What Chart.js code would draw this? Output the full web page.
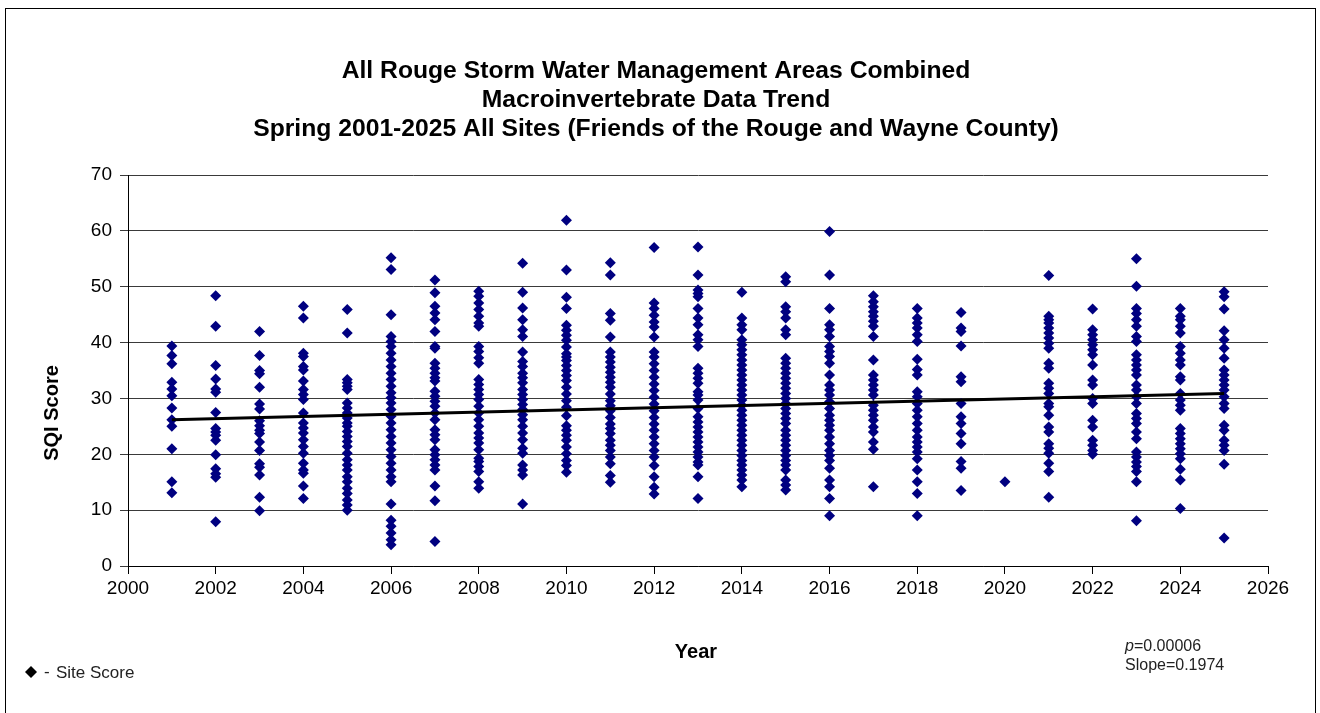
<!DOCTYPE html>
<html>
<head>
<meta charset="utf-8">
<script src="https://cdn.jsdelivr.net/npm/chart.js@4.4.1/dist/chart.umd.min.js"></script>
<style>
  html, body { margin: 0; padding: 0; background: #fff; }
  canvas { display: block; }
</style>
</head>
<body>
<canvas id="chart" width="1320" height="713"></canvas>
<script>
// SQI scores, one list per spring sampling year
const s2001 = [39.4, 37.7, 36.2, 32.9, 31.7, 30.5, 28.3, 26.2, 25.0, 21.0, 15.1, 13.1];
const s2002 = [48.4, 42.9, 35.9, 33.5, 31.7, 31.1, 27.5, 24.6, 24.0, 23.4, 22.5, 19.9, 17.4, 16.5, 15.9, 7.9];
const s2003 = [42.0, 37.7, 35.0, 34.4, 32.0, 29.0, 28.1, 26.0, 25.1, 24.3, 23.7, 22.2, 20.7, 18.3, 17.7, 16.3, 12.3, 9.9];
const s2004 = [46.5, 44.4, 38.1, 37.5, 35.7, 35.1, 33.1, 31.6, 30.7, 29.8, 27.4, 25.6, 24.7, 23.8, 22.6, 21.4, 20.2, 18.4, 17.2, 16.6, 14.3, 12.1];
const s2005 = [45.9, 41.7, 33.4, 32.8, 32.2, 31.6, 29.2, 28.3, 27.4, 26.5, 25.6, 25.0, 24.1, 23.2, 22.3, 21.4, 20.2, 19.0, 18.1, 17.2, 16.0, 15.1, 13.9, 13.0, 11.8, 10.9, 10.0];
const s2006 = [55.2, 53.1, 45.0, 41.1, 40.2, 39.3, 38.1, 36.9, 35.7, 34.5, 33.4, 32.2, 31.0, 30.1, 29.2, 28.0, 26.8, 25.6, 24.4, 23.2, 22.0, 20.8, 19.6, 18.4, 17.2, 16.0, 15.1, 11.1, 8.2, 7.1, 5.9, 4.7, 3.8];
const s2007 = [51.2, 48.9, 46.5, 45.3, 44.1, 42.0, 39.3, 39.0, 36.3, 35.4, 34.5, 33.7, 33.1, 31.3, 30.4, 29.5, 28.6, 27.4, 26.2, 24.4, 23.5, 22.6, 20.8, 19.9, 19.0, 18.1, 17.2, 14.3, 11.7, 4.4];
const s2008 = [49.2, 48.3, 47.1, 45.9, 44.7, 43.5, 42.9, 39.3, 38.4, 37.3, 36.3, 33.4, 32.5, 31.6, 30.7, 29.8, 28.6, 27.4, 26.2, 25.0, 23.8, 22.9, 22.0, 20.8, 19.3, 18.7, 17.8, 16.9, 15.1, 13.9];
const s2009 = [54.2, 49.0, 46.2, 44.1, 42.3, 41.1, 38.3, 36.6, 35.7, 34.5, 33.7, 32.8, 31.6, 30.7, 29.8, 28.9, 28.0, 27.1, 26.2, 25.0, 23.8, 22.6, 21.1, 20.2, 18.1, 17.2, 16.3, 11.1];
const s2010 = [61.9, 53.0, 48.1, 46.1, 43.1, 42.2, 41.3, 40.4, 39.2, 38.0, 37.4, 36.8, 35.9, 35.0, 34.1, 33.2, 32.0, 30.8, 29.6, 28.4, 26.9, 25.1, 24.3, 23.4, 22.5, 21.3, 20.1, 18.9, 18.0, 16.8];
const s2011 = [54.3, 52.1, 45.2, 44.0, 41.0, 38.3, 37.4, 36.5, 35.6, 34.7, 33.8, 32.9, 32.0, 30.8, 29.6, 28.7, 27.8, 26.6, 25.4, 24.6, 23.7, 22.5, 21.6, 20.7, 19.5, 18.3, 16.2, 15.0];
const s2012 = [57.0, 47.1, 46.1, 44.9, 43.7, 42.8, 41.0, 38.3, 37.4, 36.2, 35.0, 33.8, 32.6, 31.4, 30.2, 29.0, 27.8, 26.6, 25.4, 24.3, 23.1, 21.9, 20.7, 19.5, 18.0, 16.0, 14.1, 12.9];
const s2013 = [57.1, 52.1, 49.4, 48.8, 48.2, 46.1, 44.4, 43.2, 41.4, 40.5, 39.3, 35.4, 34.5, 33.6, 32.7, 31.2, 30.6, 29.7, 28.2, 26.7, 25.8, 24.9, 24.0, 23.1, 22.2, 21.3, 20.4, 19.5, 18.6, 18.1, 16.0, 12.1];
const s2014 = [49.0, 44.4, 43.2, 42.3, 40.5, 39.6, 38.7, 37.8, 36.9, 36.0, 35.1, 34.2, 33.3, 32.4, 31.5, 30.6, 29.7, 28.8, 27.9, 27.0, 26.1, 25.2, 24.3, 23.4, 22.5, 21.6, 20.7, 19.8, 18.9, 18.1, 17.2, 16.3, 15.4, 14.2];
const s2015 = [51.8, 50.9, 46.4, 45.5, 44.4, 42.3, 41.4, 37.2, 36.3, 35.4, 34.5, 33.6, 32.7, 31.8, 30.9, 30.0, 29.1, 28.2, 27.3, 26.4, 25.5, 24.3, 23.4, 22.5, 21.6, 20.7, 19.8, 18.9, 18.1, 17.2, 15.4, 14.5, 13.6];
const s2016 = [59.9, 52.1, 46.1, 43.2, 42.3, 41.1, 39.3, 38.4, 37.5, 36.3, 34.2, 32.4, 31.5, 30.6, 29.4, 28.2, 27.0, 26.1, 25.2, 24.3, 23.1, 21.9, 20.7, 19.8, 18.9, 17.5, 15.4, 14.2, 12.1, 9.0];
const s2017 = [48.4, 47.3, 46.4, 45.5, 44.7, 43.8, 42.9, 41.1, 36.9, 34.2, 33.3, 32.4, 31.5, 30.6, 28.8, 27.9, 27.0, 26.1, 24.9, 24.0, 22.2, 20.9, 14.2];
const s2018 = [46.1, 44.4, 43.5, 42.6, 41.4, 40.2, 37.0, 35.2, 34.2, 31.2, 30.3, 29.1, 27.9, 26.7, 25.5, 24.3, 23.1, 22.2, 21.3, 20.4, 19.2, 17.2, 15.1, 13.0, 9.0];
const s2019 = [45.4, 42.6, 42.0, 39.4, 33.9, 33.0, 29.1, 26.7, 25.5, 23.7, 21.9, 18.7, 17.5, 13.5];
const s2020 = [15.1];
const s2021 = [52.0, 44.7, 44.1, 43.5, 42.6, 41.7, 40.8, 39.9, 39.0, 36.3, 35.4, 32.7, 31.8, 30.9, 29.1, 28.5, 27.0, 24.9, 24.0, 21.9, 21.1, 20.2, 18.4, 16.9, 12.3];
const s2022 = [46.0, 42.3, 41.4, 40.5, 39.6, 38.7, 37.8, 36.0, 33.3, 32.4, 30.0, 29.1, 26.1, 24.9, 22.5, 21.6, 20.7, 20.0];
const s2023 = [55.0, 50.1, 46.1, 45.2, 44.1, 42.9, 41.1, 40.2, 37.8, 36.9, 36.0, 35.1, 34.2, 32.4, 31.5, 30.3, 29.1, 27.3, 26.4, 25.5, 24.0, 22.8, 20.4, 19.5, 18.6, 17.8, 16.9, 15.1, 8.1];
const s2024 = [46.1, 44.7, 44.1, 42.9, 41.7, 39.3, 38.1, 36.9, 36.0, 33.9, 33.3, 30.9, 29.7, 28.8, 27.9, 24.6, 23.7, 22.8, 21.9, 21.0, 20.1, 19.2, 17.3, 15.4, 10.3];
const s2025 = [49.1, 48.2, 46.0, 42.1, 40.5, 39.0, 37.2, 35.1, 34.2, 33.3, 32.4, 31.5, 30.3, 29.1, 28.2, 25.2, 24.3, 22.5, 21.6, 20.7, 18.2, 5.0];

const years = [2001, 2002, 2003, 2004, 2005, 2006, 2007, 2008, 2009, 2010, 2011, 2012, 2013,
               2014, 2015, 2016, 2017, 2018, 2019, 2020, 2021, 2022, 2023, 2024, 2025];
const yearScores = [s2001, s2002, s2003, s2004, s2005, s2006, s2007, s2008, s2009, s2010, s2011, s2012, s2013,
                    s2014, s2015, s2016, s2017, s2018, s2019, s2020, s2021, s2022, s2023, s2024, s2025];

// Linear trend line end points (as drawn on the chart)
const trendYears = [2001, 2025];
const trendValues = [26.2, 30.9];

const xTicks = { min: 2000, max: 2026, step: 2 };
const yTicks = { min: 0, max: 70, step: 10 };

const titleLines = [
    'All Rouge Storm Water Management Areas Combined',
    'Macroinvertebrate Data Trend',
    'Spring 2001-2025 All Sites (Friends of the Rouge and Wayne County)'
];

const FONT = '"Liberation Sans", Arial, sans-serif';

// Build scatter points from the per-year lists
const sitePoints = [];
years.forEach((yr, i) => {
    yearScores[i].forEach(v => sitePoints.push({ x: yr, y: v }));
});
const trendPoints = trendYears.map((yr, i) => ({ x: yr, y: trendValues[i] }));

// Frame, titles, axis names, key and stats text
const decorPlugin = {
    id: 'decor',
    beforeDraw(chart) {
        const ctx = chart.ctx;
        ctx.save();
        ctx.fillStyle = '#fff';
        ctx.fillRect(0, 0, chart.width, chart.height);
        ctx.restore();
    },
    afterDraw(chart) {
        const ctx = chart.ctx;
        ctx.save();
        ctx.strokeStyle = '#000';
        ctx.lineWidth = 1;
        ctx.strokeRect(5.5, 8.5, 1310, 720);

        ctx.fillStyle = '#000';
        ctx.textAlign = 'center';
        ctx.textBaseline = 'middle';
        ctx.font = 'bold 24.7px ' + FONT;
        titleLines.forEach((line, i) => ctx.fillText(line, 656, 71 + i * 29));

        ctx.font = 'bold 20px ' + FONT;
        ctx.fillText('Year', 696, 652);

        ctx.save();
        ctx.translate(52, 413);
        ctx.rotate(-Math.PI / 2);
        ctx.fillText('SQI Score', 0, 0);
        ctx.restore();

        // key
        ctx.beginPath();
        ctx.moveTo(25, 672);
        ctx.lineTo(31, 666);
        ctx.lineTo(37, 672);
        ctx.lineTo(31, 678);
        ctx.closePath();
        ctx.fill();
        ctx.textAlign = 'left';
        ctx.font = '17px ' + FONT;
        ctx.fillStyle = '#222';
        ctx.fillText('-', 44, 672);
        ctx.fillText('Site Score', 56, 673);

        // stats
        ctx.font = 'italic 16px ' + FONT;
        ctx.fillText('p', 1125, 647);
        const pw = ctx.measureText('p').width;
        ctx.font = '16px ' + FONT;
        ctx.fillText('=0.00006', 1125 + pw, 647);
        ctx.fillText('Slope=0.1974', 1125, 666);
        ctx.restore();
    }
};

const ctx = document.getElementById('chart').getContext('2d');
const chart = new Chart(ctx, {
    type: 'scatter',
    data: {
        datasets: [
            {
                label: 'Site Score',
                data: sitePoints,
                pointStyle: 'rectRot',
                pointRadius: 5.5,
                pointBackgroundColor: '#000080',
                pointBorderColor: '#000080',
                pointBorderWidth: 0,
                order: 2
            },
            {
                label: 'Trend',
                type: 'line',
                data: trendPoints,
                borderColor: '#000',
                borderWidth: 3,
                pointRadius: 0,
                fill: false,
                order: 1
            }
        ]
    },
    options: {
        responsive: false,
        animation: false,
        layout: { padding: { left: 0, right: 52, top: 175, bottom: 0 } },
        plugins: {
            legend: { display: false },
            tooltip: { enabled: false },
            title: { display: false }
        },
        scales: {
            x: {
                type: 'linear',
                min: xTicks.min,
                max: xTicks.max,
                ticks: {
                    stepSize: xTicks.step,
                    color: '#000',
                    font: { family: FONT, size: 19 },
                    padding: 3,
                    callback: v => String(v)
                },
                grid: { drawOnChartArea: false, color: '#000', tickLength: 8 },
                border: { color: '#000', width: 1 },
                afterFit: s => { s.height = 147; }
            },
            y: {
                min: yTicks.min,
                max: yTicks.max,
                ticks: {
                    stepSize: yTicks.step,
                    color: '#000',
                    font: { family: FONT, size: 19 },
                    padding: 8,
                    callback: v => String(v)
                },
                grid: { color: '#3a3a3a', lineWidth: 1, tickLength: 8 },
                border: { color: '#000', width: 1 },
                afterFit: s => { s.width = 128; }
            }
        }
    },
    plugins: [decorPlugin]
});
</script>
</body>
</html>
